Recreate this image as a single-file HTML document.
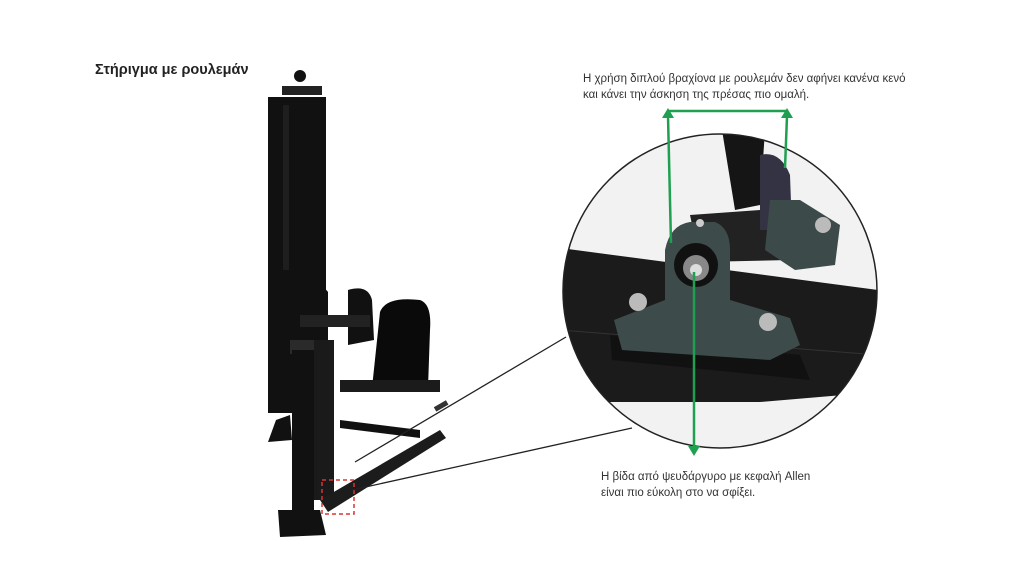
<!DOCTYPE html>
<html><head><meta charset="utf-8"><style>
html,body{margin:0;padding:0;background:#fff;}
body{width:1024px;height:576px;overflow:hidden;position:relative;font-family:"Liberation Sans",sans-serif;}
.t{position:absolute;font-size:11.5px;color:#333;line-height:16px;}
</style></head><body>
<div class="t" style="left:95px;top:62px;font-size:14.5px;font-weight:bold;color:#222;">Στήριγμα με ρουλεμάν</div>
<div class="t" style="left:583px;top:71px;">Η χρήση διπλού βραχίονα με ρουλεμάν δεν αφήνει κανένα κενό<br>και κάνει την άσκηση της πρέσας πιο ομαλή.</div>
<div class="t" style="left:601px;top:469px;">Η βίδα από ψευδάργυρο με κεφαλή Allen<br>είναι πιο εύκολη στο να σφίξει.</div>
<svg width="1024" height="576" style="position:absolute;left:0;top:0">
<defs><clipPath id="c"><circle cx="720" cy="291" r="157"/></clipPath></defs>
<g fill="#111">
<circle cx="300" cy="76" r="6"/>
<rect x="282" y="86" width="40" height="9" fill="#222"/>
<rect x="268" y="97" width="58" height="316"/>
<rect x="283" y="105" width="6" height="165" fill="#1e1e1e"/>
<path d="M296 290 Q320 280 328 292 L328 360 L296 360Z"/>
<path d="M348 290 Q368 284 372 300 L374 340 L348 345Z"/>
<path d="M380 312 Q386 296 420 300 Q432 304 430 330 L428 388 L372 388Z" fill="#0a0a0a"/>
<rect x="300" y="315" width="70" height="12" fill="#222"/>
<rect x="290" y="340" width="38" height="14" fill="#2a2a2a"/>
<rect x="292" y="350" width="22" height="180"/>
<rect x="314" y="340" width="20" height="160" fill="#1a1a1a"/>
<path d="M340 380 L440 380 L440 392 L340 392Z" fill="#1b1b1b"/>
<path d="M320 500 L440 430 L446 438 L328 512Z" fill="#1c1c1c"/>
<path d="M340 420 L420 430 L420 438 L340 428Z"/>
<path d="M276 420 L290 415 L292 440 L268 442Z"/>
<path d="M278 510 L320 510 L326 535 L280 537Z"/>
<rect x="434" y="404" width="14" height="5" fill="#333" transform="rotate(-30 440 406)"/>
</g>
<rect x="322" y="480" width="32" height="34" fill="none" stroke="#d33" stroke-width="1.5" stroke-dasharray="4,3"/>
<line x1="355" y1="462" x2="566" y2="337" stroke="#222" stroke-width="1.3"/>
<line x1="352" y1="490" x2="632" y2="428" stroke="#222" stroke-width="1.3"/>
<g clip-path="url(#c)">
<rect x="560" y="130" width="320" height="320" fill="#f2f2f2"/>
<path d="M560 248 L878 290 L878 392 L760 402 L560 402Z" fill="#1b1b1b"/>
<path d="M560 330 L878 355" stroke="#333" stroke-width="1"/>
<path d="M610 335 L800 355 L810 380 L612 360Z" fill="#111"/>
<path d="M722 130 L765 130 L760 205 L735 210Z" fill="#151515"/>
<path d="M690 215 L760 210 L790 260 L700 262Z" fill="#222"/>
<path d="M760 155 Q780 150 790 175 L792 230 L760 230Z" fill="#334"/>
<path d="M770 200 L800 200 L840 225 L835 265 L795 270 L765 250Z" fill="#3c4a4a"/>
<path d="M665 250 Q670 225 690 222 L715 222 Q730 228 730 250 L730 300 L790 318 L800 345 L770 360 L622 350 L614 320 L665 300Z" fill="#3d4b4b"/>
<circle cx="696" cy="265" r="22" fill="#111"/>
<circle cx="696" cy="268" r="13" fill="#888"/>
<circle cx="696" cy="270" r="6" fill="#ddd"/>
<circle cx="638" cy="302" r="9" fill="#bbb"/>
<circle cx="768" cy="322" r="9" fill="#bbb"/>
<circle cx="823" cy="225" r="8" fill="#bbb"/>
<circle cx="700" cy="223" r="4" fill="#ccc"/>
</g>
<circle cx="720" cy="291" r="157" fill="none" stroke="#222" stroke-width="1.5"/>
<g stroke="#1fa050" stroke-width="2.5" fill="#1fa050">
<line x1="671" y1="243" x2="668" y2="116"/>
<line x1="785" y1="168" x2="787" y2="116"/>
<line x1="668" y1="111" x2="787" y2="111"/>
<line x1="694" y1="272" x2="694" y2="448"/>
</g>
<g fill="#1fa050">
<polygon points="662,118 668,108 674,118"/>
<polygon points="781,118 787,108 793,118"/>
<polygon points="688,446 694,456 700,446"/>
</g>
</svg>
</body></html>
